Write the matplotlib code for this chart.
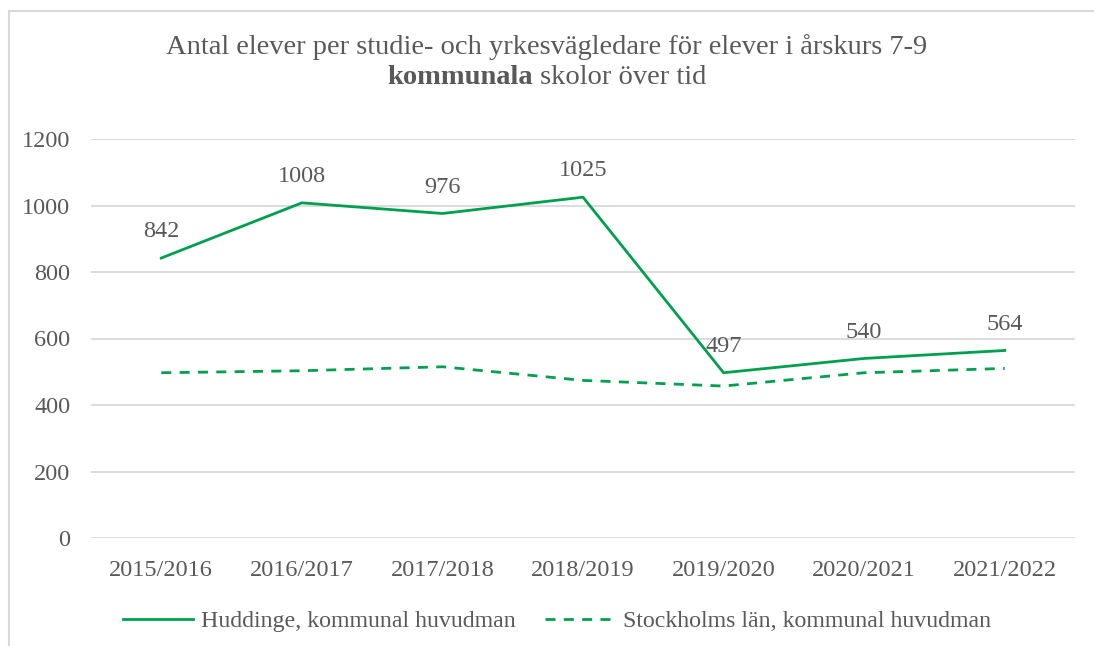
import matplotlib
matplotlib.use("Agg")
import matplotlib.pyplot as plt
from matplotlib.patches import Rectangle
from matplotlib.lines import Line2D

# ---- data ----
years = ["2015/2016", "2016/2017", "2017/2018", "2018/2019",
         "2019/2020", "2020/2021", "2021/2022"]
huddinge = [842, 1008, 976, 1025, 497, 540, 564]
stockholm = [497, 503, 515, 474, 457, 497, 510]

GREEN = "#00A04F"
TEXT = "#595959"
GRID = "#D9D9D9"
DASH = (0, (3.6, 3.0))
FS = 17.5

plt.rcParams["font.family"] = ["Liberation Serif", "DejaVu Serif"]

W, H = 1094, 646
fig = plt.figure(figsize=(W / 100, H / 100), dpi=100)
fig.patch.set_facecolor("white")

# chart frame
fig.patches.append(Rectangle((9 / W, -0.05), 1.2, 1 - 11 / H + 0.05,
                             transform=fig.transFigure, fill=False,
                             edgecolor=GRID, linewidth=1.5))

ax = fig.add_axes([91 / W, 1 - 538 / H, (1075 - 91) / W, (538 - 139) / H])
x = list(range(len(years)))
ax.plot(x, huddinge, color=GREEN, linewidth=2.0,
        label="Huddinge, kommunal huvudman")
ax.plot(x, stockholm, color=GREEN, linewidth=2.0, linestyle=DASH,
        label="Stockholms län, kommunal huvudman")

for xi, v in zip(x, huddinge):
    ax.annotate(str(v), (xi, v), xytext=(0, 19), textcoords="offset points",
                ha="center", va="center", fontsize=FS, color=TEXT)

ax.set_xlim(-0.5, len(years) - 0.5)
ax.set_ylim(0, 1200)
ax.set_yticks(range(0, 1201, 200))
ax.set_xticks(x)
ax.set_xticklabels(years)
ax.tick_params(axis="both", length=0, labelsize=FS, labelcolor=TEXT)
ax.tick_params(axis="y", pad=15)
ax.tick_params(axis="x", pad=16)
ax.grid(axis="y", color=GRID, linewidth=1.3)
ax.set_axisbelow(True)
for s in ax.spines.values():
    s.set_visible(False)

# title: first line plain, second line with bold word
fig.text(0.5, 1 - 47 / H, "Antal elever per studie- och yrkesvägledare för elever i årskurs 7-9",
         ha="center", va="center", fontsize=20.5, color=TEXT)
t1 = fig.text(0, 1 - 78 / H, "kommunala", ha="left", va="center",
              fontsize=20.5, color=TEXT, fontweight="bold")
t2 = fig.text(0, 1 - 78 / H, " skolor över tid", ha="left", va="center",
              fontsize=20.5, color=TEXT)
fig.canvas.draw()
r = fig.canvas.get_renderer()
w1 = t1.get_window_extent(r).width
w2 = t2.get_window_extent(r).width
start = (W - (w1 + w2)) / 2
t1.set_x(start / W)
t2.set_x((start + w1) / W)

handles = [Line2D([], [], color=GREEN, linewidth=2.0),
           Line2D([], [], color=GREEN, linewidth=2.0, linestyle=DASH)]
fig.legend(handles, ["Huddinge, kommunal huvudman", "Stockholms län, kommunal huvudman"],
           loc="center", bbox_to_anchor=(557 / W, 1 - 621 / H), ncol=2, frameon=False,
           fontsize=17.2, labelcolor=TEXT, handlelength=2.95, columnspacing=1.25,
           handletextpad=0.3)

fig.savefig("out.png", dpi=100)
